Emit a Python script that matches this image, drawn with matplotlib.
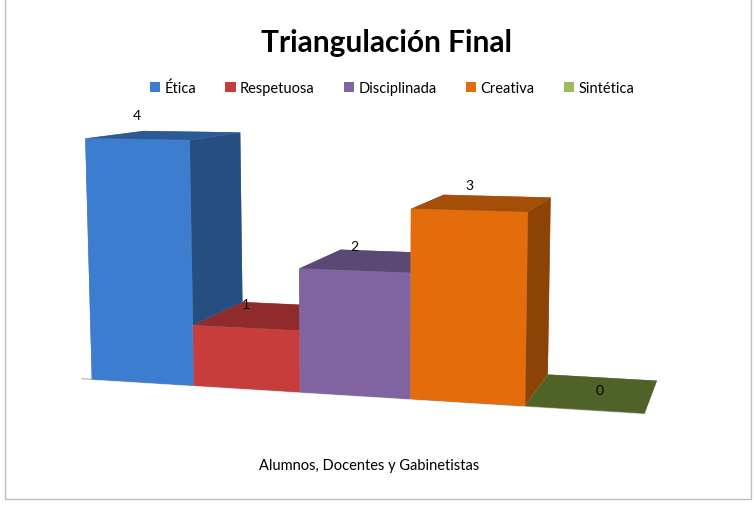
import numpy as np
import matplotlib.pyplot as plt
from matplotlib.patches import Patch, Rectangle
from matplotlib.colors import to_rgb

categorias = ['Ética', 'Respetuosa', 'Disciplinada', 'Creativa', 'Sintética']
valores = [4, 1, 2, 3, 0]
grupo = 'Alumnos, Docentes y Gabinetistas'
titulo = 'Triangulación Final'
colores = ['#3C7DD0', '#C83C3C', '#8064A2', '#E46C0A', '#9BBB59']


def oscurecer(c, f):
    r, g, b = to_rgb(c)
    return (r * f, g * f, b * f)


fig = plt.figure(figsize=(7.54, 5.06), dpi=100)
ax = fig.add_axes([0.05, -0.18, 0.88, 1.3], projection='3d', computed_zorder=True)
ax.patch.set_alpha(0)

n = len(valores)
xs = np.arange(n)
ys = np.zeros(n)
zs = np.zeros(n)
dx = np.ones(n)
dy = np.full(n, 0.8)
dz = np.array(valores, dtype=float)

# caras: -z, +z, -y, +y, -x, +x
caras = []
for c in colores:
    caras += [oscurecer(c, 0.5), oscurecer(c, 0.72), to_rgb(c),
              oscurecer(c, 0.6), oscurecer(c, 0.6), oscurecer(c, 0.62)]
caras[4 * 6 + 1] = '#4F6228'

ax.bar3d(xs, ys, zs, dx, dy, dz, color=caras, shade=False,
         edgecolor=(1, 1, 1, 0.15), linewidth=0.3)
ax.plot([-0.1, 5.0], [0, 0], [0, 0], color='#BFBFBF', lw=1)

for i, v in enumerate(valores):
    if v > 0:
        ax.text(xs[i] + 0.5, 0, v + 0.3, str(v), ha='center', va='bottom',
                fontsize=10, family='Lato')
    else:
        ax.text(xs[i] + 0.55, 0.4, 0.05, str(v), ha='center', va='center',
                fontsize=10, family='Lato')

ax.set_proj_type('persp', focal_length=0.42)
ax.view_init(elev=8, azim=-75)
ax.set_xlim(0, 5)
ax.set_ylim(0, 1)
ax.set_zlim(0, 4)
ax.set_xticks([])
ax.set_yticks([])
ax.set_zticks([])
ax.set_box_aspect((5, 1.6, 2.2), zoom=0.92)
ax.set_axis_off()
for eje in (ax.xaxis, ax.yaxis, ax.zaxis):
    eje.set_visible(False)

fig.text(0.513, 0.915, titulo, ha='center', va='center', fontsize=21.5,
         fontweight='bold', family='Lato')

handles = [Patch(facecolor=c, edgecolor='none') for c in colores]
fig.legend(handles, categorias, loc='center', bbox_to_anchor=(0.52, 0.825),
           ncol=5, frameon=False, handlelength=0.7,
           handleheight=0.7, handletextpad=0.3, columnspacing=2.0,
           prop={'family': 'Lato', 'size': 10.5})

fig.text(0.49, 0.079, grupo, ha='center', va='center', fontsize=10.5,
         family='Lato')

fig.patches.append(Rectangle((0.006, 0.012), 0.99, 1.1, transform=fig.transFigure,
                             fill=False, edgecolor='#BFBFBF', lw=1))

fig.savefig('out.png', dpi=100)
